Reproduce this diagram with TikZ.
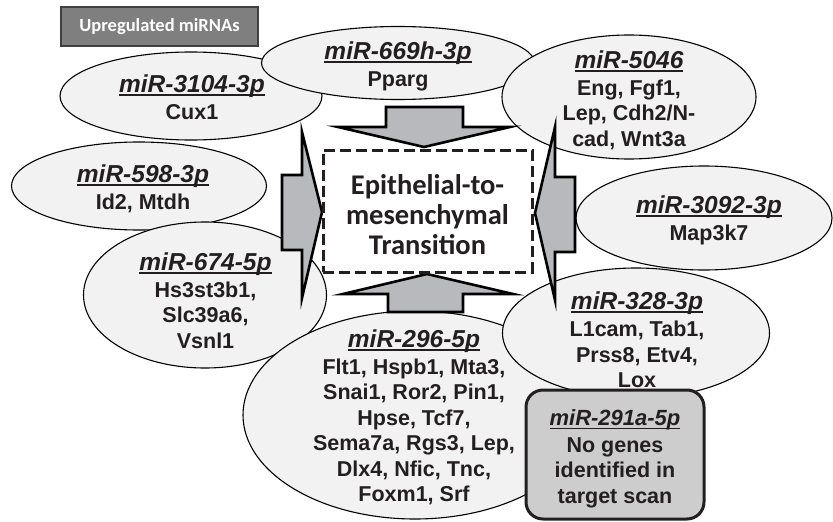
\documentclass[tikz,border=0pt]{standalone}
\usepackage{fontspec}
\setmainfont{Liberation Sans}
\newfontfamily\calibrifont{Carlito}
\usetikzlibrary{shapes.geometric}

\definecolor{ellfill}{HTML}{F2F2F2}
\definecolor{inktext}{HTML}{231F20}
\definecolor{arrowfill}{HTML}{B8B9BD}
\definecolor{notefill}{HTML}{CDCDCD}
\definecolor{tagfill}{HTML}{7F7F7F}
\definecolor{tagedge}{HTML}{404040}

% underlined miRNA name, rule runs through descenders
\newsavebox\ulbox
\newcommand\ulname[1]{\sbox\ulbox{#1}\rlap{\rule[-3.5pt]{\wd\ulbox}{1.8pt}}\usebox\ulbox}
\newcommand\genefont{\fontsize{21.5}{25.5}\selectfont\bfseries}
\newcommand\mirname[1]{{\fontsize{24.5}{25.5}\selectfont\bfseries\itshape\ulname{#1}}}
\newcommand\mirnamesmall[1]{{\fontsize{22}{25.5}\selectfont\bfseries\itshape\ulname{#1}}}

\begin{document}
\begin{tikzpicture}[x=1pt,y=-1pt,
  mirna/.style={ellipse, draw=black, line width=1.1pt, fill=ellfill, inner sep=0pt},
  genetext/.style={align=center, font=\genefont, text=inktext, inner sep=0pt},
  blockarrow/.style={draw=black, line width=2.6pt, fill=arrowfill, line join=miter},
  emtbox/.style={draw=inktext, line width=3pt, dash pattern=on 11pt off 5pt, fill=white,
    minimum width=209pt, minimum height=122pt, inner sep=0pt},
  notebox/.style={draw=inktext, line width=3pt, fill=notefill, rounded corners=17pt,
    minimum width=178pt, minimum height=129pt, inner sep=0pt},
  tagbox/.style={draw=tagedge, line width=1.5pt, fill=tagfill, text=white,
    minimum width=197pt, minimum height=39pt, inner sep=0pt,
    font=\calibrifont\fontsize{18.5}{20}\selectfont\bfseries}]
\useasboundingbox (0,0) rectangle (833,522);

% miRNA ellipses, back to front
\node[mirna, minimum width=262pt, minimum height=88pt]  (e3104) at (191,96)  {};
\node[mirna, minimum width=273pt, minimum height=73pt]  (e669)  at (398,63)  {};
\node[mirna, minimum width=254pt, minimum height=124pt] (e5046) at (629,97)  {};
\node[mirna, minimum width=255pt, minimum height=88pt]  (e598)  at (139,186) {};
\node[mirna, minimum width=243pt, minimum height=146pt] (e674)  at (205,295) {};
\node[mirna, minimum width=344pt, minimum height=208pt] (e296)  at (415,415) {};
\node[mirna, minimum width=256pt, minimum height=104pt] (e3092) at (704,218) {};
\node[mirna, minimum width=267pt, minimum height=130pt] (e328)  at (636,333) {};

% target gene lists
\node[genetext] (t3104) at (192,97.5) {\mirname{miR-3104-3p}\\[1.5pt] Cux1};
\node[genetext] (t669)  at (398,66)   {\mirname{miR-669h-3p}\\[1.5pt] Pparg};
\node[genetext] (t5046) at (629,100)  {\mirname{miR-5046}\\[1.5pt] Eng, Fgf1,\\ Lep, Cdh2/N-\\ cad, Wnt3a};
\node[genetext] (t598)  at (143,188.5){\mirname{miR-598-3p}\\[1.5pt] Id2, Mtdh};
\node[genetext] (t674)  at (205.5,300.5){\mirname{miR-674-5p}\\[1.5pt] Hs3st3b1,\\ Slc39a6,\\ Vsnl1};
\node[genetext] (t3092) at (709,220)  {\mirname{miR-3092-3p}\\[1.5pt] Map3k7};
\node[genetext] (t328)  at (637,340)  {\mirname{miR-328-3p}\\[1.5pt] L1cam, Tab1,\\ Prss8, Etv4,\\ Lox};
\node[genetext] (t296)  at (414,417.5){\mirname{miR-296-5p}\\[1.5pt] Flt1, Hspb1, Mta3,\\ Snai1, Ror2, Pin1,\\ Hpse, Tcf7,\\ Sema7a, Rgs3, Lep,\\ Dlx4, Nfic, Tnc,\\ Foxm1, Srf};

% block arrows converging on the EMT box
\draw[blockarrow] (386,107) -- (463,107) -- (463,127) -- (510,127) -- (424,147) -- (338,127) -- (386,127) -- cycle;
\draw[blockarrow] (388,312) -- (463,312) -- (463,294) -- (513,294) -- (427,274) -- (343,294) -- (388,294) -- cycle;
\draw[blockarrow] (282,175) -- (302,175) -- (302,132) -- (322,212) -- (302,298) -- (302,250) -- (282,250) -- cycle;
\draw[blockarrow] (575,177) -- (555,177) -- (555,127) -- (535,213) -- (555,300) -- (555,252) -- (575,252) -- cycle;

% central process
\node[emtbox] (emt) at (427.5,211) {};
\node[align=center, text=inktext, inner sep=0pt,
  font=\calibrifont\fontsize{28.5}{30}\selectfont\bfseries] (emttext) at (427.5,215)
  {Epithelial-to-\\ mesenchymal\\ Transition};

% miRNA without predicted targets
\node[notebox] (n291) at (615,454.5) {};
\node[genetext] (t291) at (615,459) {\mirnamesmall{miR-291a-5p}\\[1pt] No genes\\ identified in\\ target scan};

% legend tag
\node[tagbox] (tag) at (159.5,26.5) {Upregulated miRNAs};
\end{tikzpicture}
\end{document}
